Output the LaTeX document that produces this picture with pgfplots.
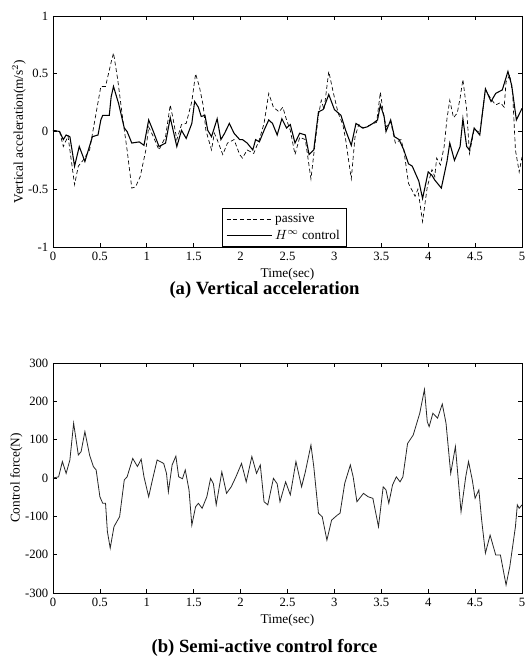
\documentclass[border=0pt]{standalone}
\usepackage{fontspec}
\setmainfont{Liberation Serif}
\usepackage{pgfplots}
\pgfplotsset{compat=1.18}

\pgfplotsset{
  suspstyle/.style={
    scale only axis,
    width=351.75pt,
    xmin=0, xmax=5,
    xtick={0,0.5,...,5},
    xticklabels={0,0.5,1,1.5,2,2.5,3,3.5,4,4.5,5},
    tick align=inside,
    major tick length=3pt,
    tick style={black, line width=0.5pt},
    axis line style={line width=0.6pt},
    tick label style={font=\fontsize{9.5}{10}\selectfont},
    label style={font=\fontsize{10}{12}\selectfont},
    /pgf/number format/assume math mode=true,
    xlabel={Time(sec)},
    xlabel style={yshift=1pt},
  }
}

\begin{document}
\begin{tikzpicture}
\path[use as bounding box] (0,0) rectangle (396.75pt,-499.5pt);

% (a) vertical acceleration
\begin{axis}[
  suspstyle,
  at={(39.75pt,-12pt)}, anchor=north west,
  height=173.25pt,
  ymin=-1, ymax=1,
  ytick={-1,-0.5,0,0.5,1},
  yticklabels={-1,-0.5,0,0.5,1},
  ylabel={Vertical acceleration(m/s$^2$)},
  ylabel style={yshift=-5pt},
  legend cell align=left,
  legend image code/.code={\draw[#1] (0pt,0pt) -- (34pt,0pt);},
  legend style={at={(0.36,0)}, anchor=south west, font=\fontsize{10}{11}\selectfont,
    draw=black, line width=0.5pt, inner xsep=3pt, inner ysep=2pt, row sep=0pt},
]
\addplot[black, densely dashed, line width=0.5pt] coordinates {
(0,0.01)(0.07,0)(0.11,-0.13)(0.16,-0.04)(0.23,-0.46)(0.27,-0.30)(0.32,-0.25)(0.39,-0.16)
(0.44,0.07)(0.51,0.39)(0.56,0.39)(0.62,0.60)(0.645,0.68)(0.69,0.45)(0.74,0.13)(0.79,-0.16)
(0.84,-0.49)(0.88,-0.48)(0.93,-0.39)(0.99,-0.16)(1.02,0.04)(1.07,-0.045)(1.13,-0.16)(1.20,-0.045)
(1.25,0.23)(1.28,0.11)(1.32,-0.07)(1.37,0.06)(1.42,0.07)(1.48,0.26)(1.52,0.50)(1.56,0.39)
(1.60,0.23)(1.63,0.01)(1.69,-0.16)(1.72,-0.015)(1.75,-0.07)(1.81,-0.20)(1.86,-0.10)(1.93,-0.07)
(1.99,-0.20)(2.02,-0.23)(2.07,-0.16)(2.14,-0.19)(2.20,-0.07)(2.25,0.07)(2.30,0.33)(2.35,0.21)
(2.41,0.17)(2.45,0.21)(2.49,0.10)(2.53,0.01)(2.58,-0.20)(2.63,-0.05)(2.69,-0.07)(2.75,-0.41)
(2.79,-0.13)(2.83,0.14)(2.86,0.27)(2.89,0.19)(2.94,0.52)(2.99,0.33)(3.04,0.16)(3.09,0.06)
(3.12,-0.07)(3.18,-0.41)(3.22,-0.045)(3.26,0.06)(3.31,0.03)(3.39,0.06)(3.45,0.08)(3.49,0.34)
(3.52,0.17)(3.55,0.04)(3.60,0.085)(3.65,-0.10)(3.71,-0.07)(3.74,-0.16)(3.79,-0.45)(3.86,-0.56)
(3.89,-0.50)(3.94,-0.78)(3.99,-0.48)(4.04,-0.33)(4.07,-0.39)(4.09,-0.23)(4.13,-0.29)(4.17,-0.13)
(4.20,0.11)(4.23,0.27)(4.27,0.12)(4.31,0.16)(4.34,0.29)(4.37,0.45)(4.41,0.19)(4.44,-0.19)
(4.49,0.02)(4.55,-0.01)(4.61,0.36)(4.67,0.28)(4.72,0.23)(4.77,0.25)(4.81,0.21)(4.83,0.43)
(4.87,0.49)(4.90,0.33)(4.93,-0.16)(4.97,-0.35)(5.0,-0.22)
};
\addlegendentry{passive}
\addplot[black, line width=0.8pt] coordinates {
(0,0.01)(0.07,0)(0.11,-0.07)(0.14,-0.03)(0.18,-0.045)(0.23,-0.30)(0.28,-0.13)(0.34,-0.26)
(0.42,-0.045)(0.48,-0.03)(0.51,0.10)(0.53,0.14)(0.60,0.14)(0.62,0.30)(0.645,0.39)(0.70,0.24)
(0.76,0.03)(0.79,0)(0.84,-0.10)(0.92,-0.09)(0.97,-0.12)(1.02,0.10)(1.07,0)(1.13,-0.13)
(1.20,-0.10)(1.25,0.12)(1.32,-0.13)(1.37,0.01)(1.42,-0.06)(1.48,0.07)(1.51,0.26)(1.55,0.21)
(1.58,0.13)(1.62,0.14)(1.65,0.01)(1.69,-0.045)(1.75,0.11)(1.79,-0.07)(1.83,-0.015)(1.88,0.07)
(1.93,-0.015)(1.99,-0.07)(2.02,-0.07)(2.07,-0.10)(2.13,-0.16)(2.16,-0.07)(2.20,-0.09)(2.25,0.01)
(2.30,0.10)(2.34,0.07)(2.39,-0.03)(2.44,0.11)(2.49,0.03)(2.53,0.06)(2.58,-0.10)(2.63,-0.015)
(2.69,-0.03)(2.73,-0.20)(2.78,-0.16)(2.83,0.17)(2.88,0.19)(2.94,0.32)(3.00,0.19)(3.07,0.14)
(3.12,0.01)(3.18,-0.12)(3.23,0.07)(3.30,0.03)(3.35,0.04)(3.41,0.07)(3.46,0.10)(3.49,0.23)
(3.53,0.13)(3.55,0)(3.60,0.10)(3.64,-0.045)(3.69,-0.07)(3.74,-0.16)(3.79,-0.28)(3.83,-0.30)
(3.90,-0.43)(3.94,-0.58)(4.00,-0.35)(4.04,-0.38)(4.07,-0.42)(4.14,-0.49)(4.20,-0.26)(4.23,-0.10)
(4.28,-0.25)(4.34,-0.13)(4.37,0.11)(4.41,-0.13)(4.44,-0.16)(4.49,0.03)(4.55,-0.03)(4.61,0.37)
(4.67,0.26)(4.72,0.33)(4.79,0.36)(4.85,0.52)(4.89,0.40)(4.94,0.10)(5.0,0.2)
};
\addlegendentry{$H^{\infty}$ control}
\end{axis}

% (b) control force
\begin{axis}[
  suspstyle,
  at={(39.75pt,-272.25pt)}, anchor=north west,
  height=172.5pt,
  ymin=-300, ymax=300,
  ytick={-300,-200,...,300},
  ylabel={Control force(N)},
  ylabel style={yshift=-5pt},
]
\addplot[black!85, line width=0.6pt] coordinates {
(0,0)(0.06,3)(0.10,43)(0.14,12)(0.18,47)(0.22,143)(0.27,60)(0.30,69)(0.34,121)(0.39,60)
(0.43,30)(0.46,21)(0.50,-49)(0.53,-66)(0.56,-66)(0.58,-140)(0.61,-183)(0.65,-127)(0.71,-101)
(0.76,-5)(0.79,3)(0.85,51)(0.90,30)(0.94,49)(0.97,3)(1.02,-49)(1.06,-5)(1.11,47)(1.18,38)
(1.21,12)(1.23,-36)(1.27,34)(1.31,57)(1.34,3)(1.38,-2)(1.41,21)(1.45,-31)(1.48,-123)(1.52,-75)
(1.55,-66)(1.59,-79)(1.64,-49)(1.68,-1)(1.71,-15)(1.74,-70)(1.80,16)(1.85,-40)(1.90,-23)
(1.95,3)(2.01,38)(2.06,-10)(2.12,56)(2.17,12)(2.21,34)(2.25,-62)(2.29,-70)(2.35,-1)(2.39,-15)
(2.42,-62)(2.48,-10)(2.53,-44)(2.59,43)(2.65,-23)(2.69,16)(2.75,86)(2.78,30)(2.83,-92)
(2.87,-101)(2.92,-162)(2.97,-110)(3.03,-97)(3.06,-92)(3.11,-14)(3.17,34)(3.20,3)(3.24,-62)
(3.31,-40)(3.36,-49)(3.41,-53)(3.47,-127)(3.52,-23)(3.55,-31)(3.58,-66)(3.62,-18)(3.66,3)
(3.70,-10)(3.73,3)(3.78,90)(3.84,112)(3.91,169)(3.96,231)(3.99,147)(4.01,134)(4.05,169)
(4.10,156)(4.15,193)(4.19,143)(4.24,12)(4.29,82)(4.35,-88)(4.40,3)(4.43,43)(4.47,-5)
(4.50,-53)(4.54,-31)(4.57,-110)(4.61,-196)(4.66,-149)(4.72,-201)(4.77,-201)(4.83,-279)
(4.87,-231)(4.93,-127)(4.95,-70)(4.97,-79)(5.0,-70)
};
\end{axis}

\node[font=\bfseries\fontsize{14}{16}\selectfont] at (198.4pt,-217.5pt) {(a) Vertical acceleration};
\node[font=\bfseries\fontsize{14}{16}\selectfont] at (198.4pt,-486pt) {(b) Semi-active control force};
\end{tikzpicture}
\end{document}
